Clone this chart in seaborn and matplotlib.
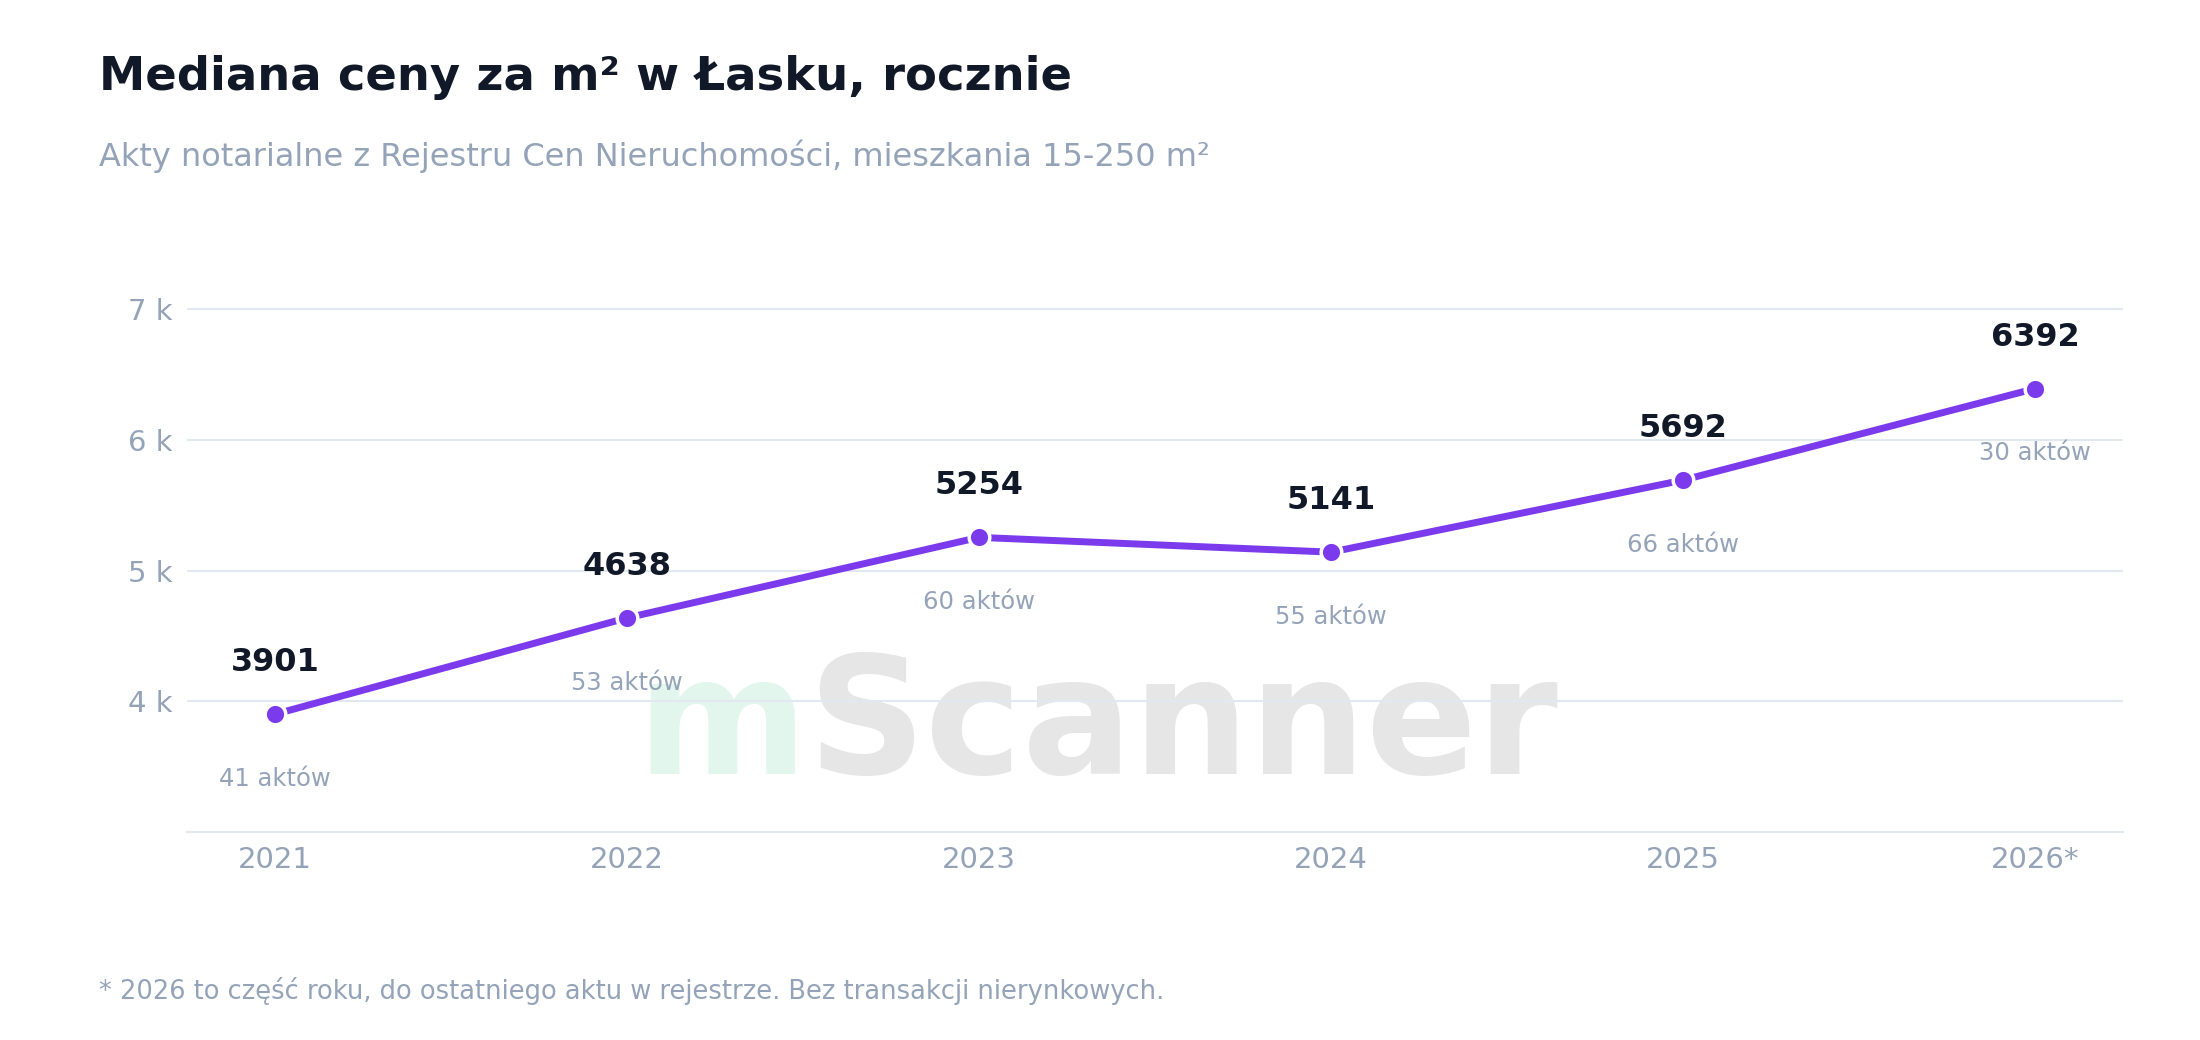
import matplotlib
matplotlib.use("Agg")
import matplotlib.pyplot as plt
import seaborn as sns
import pandas as pd

years = ["2021", "2022", "2023", "2024", "2025", "2026*"]
medians = [3901, 4638, 5254, 5141, 5692, 6392]
counts = [41, 53, 60, 55, 66, 30]
yticks = [4000, 5000, 6000, 7000]
ytick_labels = ["4 k", "5 k", "6 k", "7 k"]

sns.set_theme(style="white")
plt.rcParams['font.family'] = ['DejaVu Sans']

df = pd.DataFrame({"x": range(len(years)), "median": medians})
fig = plt.figure(figsize=(22, 10.4), dpi=100)
ax = fig.add_axes([0.085, 0.2, 0.88, 0.553])
ax.patch.set_alpha(0)
ax.set_zorder(2)

# watermark (behind the axes)
fig.text(0.367, 0.30, "m", fontsize=118, color="#e3f6ee", fontweight="bold", ha="right", va="center", zorder=-1)
fig.text(0.367, 0.30, "Scanner", fontsize=118, color="#e6e6e6", fontweight="bold", ha="left", va="center", zorder=-1)

sns.lineplot(data=df, x="x", y="median", ax=ax, color="#7c3aed", linewidth=5, zorder=3)
sns.scatterplot(data=df, x="x", y="median", ax=ax, color="#7c3aed", s=220,
                edgecolor="white", linewidth=2.5, zorder=4)

for i, (m, c) in enumerate(zip(medians, counts)):
    ax.annotate(str(m), (i, m), xytext=(0, 26), textcoords="offset points",
                ha="center", va="bottom", fontsize=23, fontweight="bold", color="#111827")
    ax.annotate(f"{c} aktów", (i, m), xytext=(0, -38), textcoords="offset points",
                ha="center", va="top", fontsize=17.5, color="#94a3b8")

ax.set_xlim(-0.25, 5.25)
ax.set_ylim(3000, 7400)
ax.set_yticks(yticks)
ax.set_yticklabels(ytick_labels)
ax.set_xticks(range(len(years)))
ax.set_xticklabels(years)
ax.tick_params(axis="both", labelsize=21, labelcolor="#94a3b8", length=0, pad=10)
ax.grid(axis="y", color="#e2e8f0", linewidth=1.5)
ax.set_xlabel("")
ax.set_ylabel("")
for s in ["top", "right", "left"]:
    ax.spines[s].set_visible(False)
ax.spines["bottom"].set_color("#e2e8f0")
ax.spines["bottom"].set_linewidth(1.5)

fig.text(0.045, 0.925, "Mediana ceny za m² w Łasku, rocznie", fontsize=33.5, fontweight="bold",
         color="#111827", va="center")
fig.text(0.045, 0.85, "Akty notarialne z Rejestru Cen Nieruchomości, mieszkania 15-250 m²",
         fontsize=23, color="#94a3b8", va="center")
fig.text(0.045, 0.047, "* 2026 to część roku, do ostatniego aktu w rejestrze. Bez transakcji nierynkowych.",
         fontsize=18.5, color="#94a3b8", va="center")

fig.savefig("out.png", dpi=100)
